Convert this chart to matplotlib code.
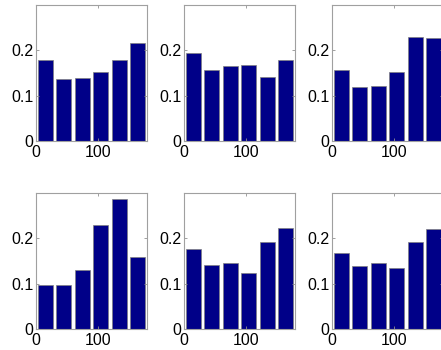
import matplotlib
matplotlib.use("Agg")
import matplotlib.pyplot as plt

plt.rcParams['font.family'] = ['Liberation Sans', 'DejaVu Sans']

centers = [15, 45, 75, 105, 135, 165]
panel_values = [
    [0.178, 0.136, 0.139, 0.152, 0.178, 0.216],
    [0.195, 0.156, 0.165, 0.168, 0.142, 0.179],
    [0.156, 0.119, 0.122, 0.152, 0.230, 0.227],
    [0.097, 0.097, 0.130, 0.229, 0.286, 0.159],
    [0.176, 0.141, 0.146, 0.123, 0.192, 0.223],
    [0.168, 0.140, 0.146, 0.134, 0.192, 0.221],
]
xticks = [0, 100]
yticks = [0, 0.1, 0.2]
yticklabels = ["0", "0.1", "0.2"]

W, H = 441, 350
fig = plt.figure(figsize=(W / 100, H / 100), dpi=100)

lefts = [36, 184, 332]
tops = [5, 193]
axw, axh = 111, 136

for i, vals in enumerate(panel_values):
    r, c = divmod(i, 3)
    ax = fig.add_axes([lefts[c] / W, 1 - (tops[r] + axh) / H, axw / W, axh / H])
    ax.bar(centers, vals, width=24, color="#000088", edgecolor="#808080", linewidth=0.5)
    ax.set_xlim(0, 180)
    ax.set_ylim(0, 0.3)
    ax.set_xticks(xticks)
    ax.set_yticks(yticks)
    ax.set_yticklabels(yticklabels)
    ax.tick_params(direction="in", length=2, width=0.6, color="#909090",
                   top=True, right=True, labelsize=11.5)
    ax.tick_params(axis="x", pad=3)
    ax.tick_params(axis="y", pad=2)
    for s in ax.spines.values():
        s.set_color("#a0a0a0")
        s.set_linewidth(0.8)

fig.savefig("out.png", dpi=100)
